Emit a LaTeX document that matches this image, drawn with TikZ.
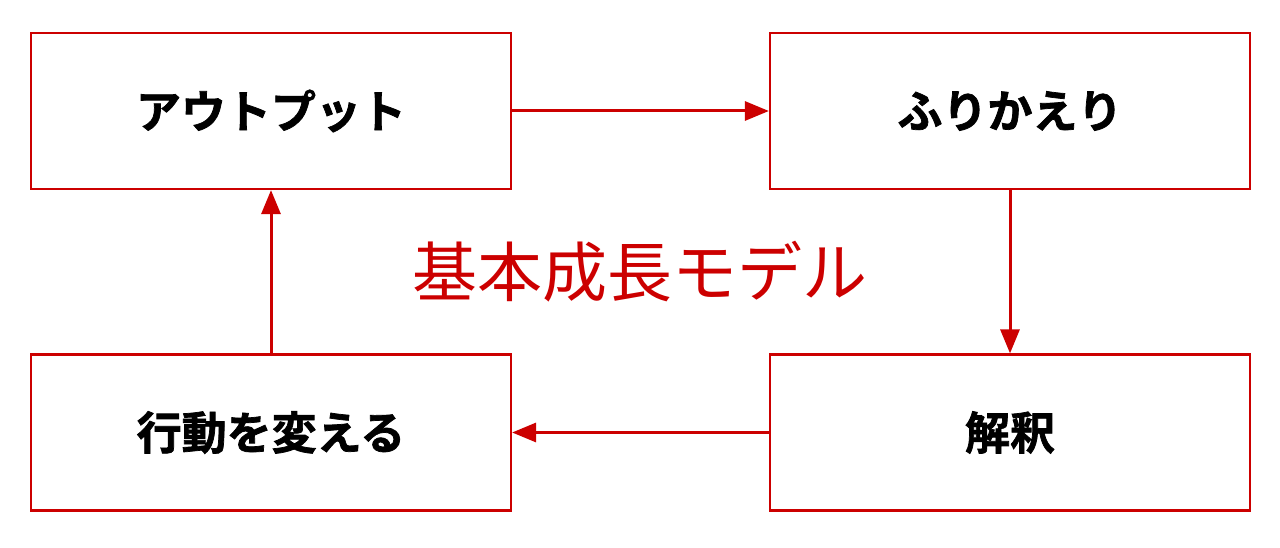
\documentclass[tikz,border=0pt]{standalone}
\usepackage{fontspec}
\newfontfamily\jp{Noto Sans CJK JP}
\newfontfamily\jpb[FakeBold=1.6]{Noto Sans CJK JP Bold}
\usetikzlibrary{arrows.meta}
\definecolor{rd}{RGB}{204,0,0}
\begin{document}
\begin{tikzpicture}[x=1pt,y=1pt,
 box/.style={draw=rd,line width=2.2pt,minimum width=480pt,minimum height=156pt,font=\jpb\fontsize{45}{50}\selectfont,inner sep=0pt},
 conn/.style={draw=rd,line width=3pt,-{Triangle[length=24pt,width=19pt]}}]
\useasboundingbox (0,0) rectangle (1280,547);
\node[box] (a) at (271,436) {アウトプット};
\node[box] (b) at (1010,436) {ふりかえり};
\node[box] (c) at (1010,114.5) {解釈};
\node[box] (d) at (271,114.5) {行動を変える};
\node[font=\jp\fontsize{65}{70}\selectfont,text=rd] (t) at (640,275) {基本成長モデル};
\draw[conn] (a.east) -- (b.west);
\draw[conn] (b.south) -- (c.north);
\draw[conn] (c.west) -- (d.east);
\draw[conn] (d.north) -- (a.south);
\end{tikzpicture}
\end{document}
